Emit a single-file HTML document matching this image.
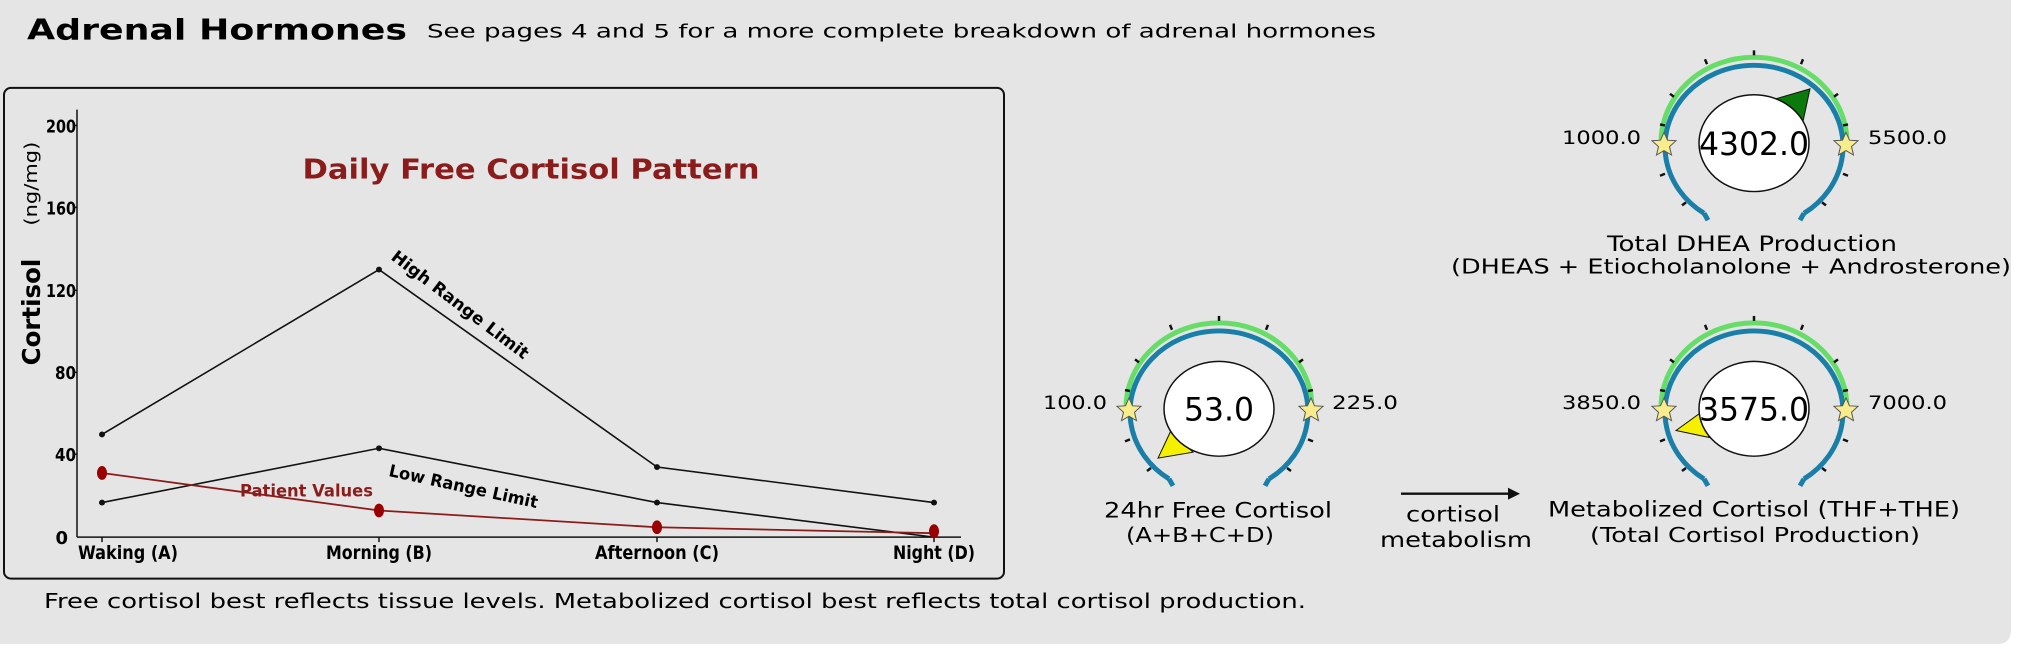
<!DOCTYPE html>
<html><head><meta charset="utf-8"><style>
html,body{margin:0;padding:0;background:#fff;}
svg{display:block;}
text{font-family:"DejaVu Sans","Liberation Sans",sans-serif;}
</style></head><body>
<svg width="2018" height="656" viewBox="0 0 2018 656" xmlns="http://www.w3.org/2000/svg">
<path d="M0 0 H2011 V630 Q2011 644 1997 644 H0 Z" fill="#e5e5e5"/>
<defs>
<g id="g">
<path d="M-93 0 A93 86 0 0 1 93 0" fill="none" stroke="#66dd66" stroke-width="5"/>
<path d="M-50 72 A89 82 0 1 1 50 72" fill="none" stroke="#1a7fa8" stroke-width="5"/>
<path d="M-50 72 l4 7 M50 72 l-4 7" stroke="#1a7fa8" stroke-width="5" fill="none"/>
<g stroke="#111" stroke-width="2.5">
<line x1="0" y1="-88" x2="0" y2="-93"/>
<line x1="-47" y1="-79" x2="-49" y2="-84"/><line x1="47" y1="-79" x2="49" y2="-84"/>
<line x1="-80" y1="-46" x2="-84" y2="-49"/><line x1="80" y1="-46" x2="84" y2="-49"/>
<line x1="-89" y1="-17" x2="-94" y2="-18"/><line x1="89" y1="-17" x2="94" y2="-18"/>
<line x1="-89" y1="32" x2="-94" y2="34"/><line x1="89" y1="32" x2="94" y2="34"/>
<line x1="-68" y1="61" x2="-72" y2="64"/><line x1="68" y1="61" x2="72" y2="64"/>
</g>
<path d="M0 -12 L3.5 -4 L12 -3.5 L5.5 2.5 L7.5 11 L0 6.5 L-7.5 11 L-5.5 2.5 L-12 -3.5 L-3.5 -4 Z" transform="translate(-90,2)" fill="#f8ec8c" stroke="#555" stroke-width="1"/>
<path d="M0 -12 L3.5 -4 L12 -3.5 L5.5 2.5 L7.5 11 L0 6.5 L-7.5 11 L-5.5 2.5 L-12 -3.5 L-3.5 -4 Z" transform="translate(92,2)" fill="#f8ec8c" stroke="#555" stroke-width="1"/>
</g>
</defs>
<g transform="scale(1,0.9874)">
<text x="27" y="40" font-size="29" font-weight="bold" textLength="380" lengthAdjust="spacingAndGlyphs">Adrenal Hormones</text>
<text x="427" y="38" font-size="19" textLength="949" lengthAdjust="spacingAndGlyphs">See pages 4 and 5 for a more complete breakdown of adrenal hormones</text>

<rect x="4" y="89" width="1000" height="497" rx="7" fill="none" stroke="#111" stroke-width="2"/>
<line x1="77" y1="111" x2="77" y2="544" stroke="#111" stroke-width="1.5"/>
<line x1="77" y1="544" x2="961" y2="544" stroke="#111" stroke-width="1.5"/>
<g font-size="18" font-weight="bold" text-anchor="end">
<text x="76" y="134" textLength="30" lengthAdjust="spacingAndGlyphs">200</text>
<text x="76" y="217" textLength="30" lengthAdjust="spacingAndGlyphs">160</text>
<text x="76" y="301" textLength="30" lengthAdjust="spacingAndGlyphs">120</text>
<text x="76" y="384" textLength="21" lengthAdjust="spacingAndGlyphs">80</text>
<text x="76" y="467" textLength="21" lengthAdjust="spacingAndGlyphs">40</text>
<text x="68" y="551">0</text>
</g>
<g stroke="#111" stroke-width="1.5">
<line x1="73" y1="127" x2="77" y2="127"/><line x1="73" y1="210" x2="77" y2="210"/><line x1="73" y1="294" x2="77" y2="294"/><line x1="73" y1="377" x2="77" y2="377"/><line x1="73" y1="460" x2="77" y2="460"/>
<line x1="102" y1="544" x2="102" y2="549"/><line x1="379" y1="544" x2="379" y2="549"/><line x1="657" y1="544" x2="657" y2="549"/><line x1="934" y1="544" x2="934" y2="549"/>
</g>
<g font-size="19" font-weight="bold" text-anchor="middle">
<text x="128" y="566" textLength="100" lengthAdjust="spacingAndGlyphs">Waking (A)</text>
<text x="379" y="566" textLength="106" lengthAdjust="spacingAndGlyphs">Morning (B)</text>
<text x="657" y="566" textLength="124" lengthAdjust="spacingAndGlyphs">Afternoon (C)</text>
<text x="934" y="566" textLength="82" lengthAdjust="spacingAndGlyphs">Night (D)</text>
</g>
<text x="0" y="0" transform="translate(40,316) rotate(-90)" font-size="25" font-weight="bold" text-anchor="middle" textLength="108" lengthAdjust="spacingAndGlyphs">Cortisol</text>
<text x="0" y="0" transform="translate(37,186) rotate(-90)" font-size="18" text-anchor="middle" textLength="85" lengthAdjust="spacingAndGlyphs">(ng/mg)</text>
<text x="531" y="181" font-size="28" font-weight="bold" fill="#8b1c1c" text-anchor="middle" textLength="457" lengthAdjust="spacingAndGlyphs">Daily Free Cortisol Pattern</text>

<polyline points="102,440 379,273 657,473 934,509" fill="none" stroke="#111" stroke-width="1.6"/>
<polyline points="102,509 379,454 657,509 934,544" fill="none" stroke="#111" stroke-width="1.6"/>
<g fill="#111"><circle cx="102" cy="440" r="3"/><circle cx="379" cy="273" r="3"/><circle cx="657" cy="473" r="3"/><circle cx="934" cy="509" r="3"/>
<circle cx="102" cy="509" r="3"/><circle cx="379" cy="454" r="3"/><circle cx="657" cy="509" r="3"/></g>
<polyline points="102,479 379,517 657,534 934,540" fill="none" stroke="#8b1c1c" stroke-width="1.8"/>
<g fill="#9b0000"><ellipse cx="102" cy="479" rx="5" ry="7"/><ellipse cx="379" cy="517" rx="5" ry="7"/><ellipse cx="657" cy="534" rx="5" ry="7"/><ellipse cx="934" cy="538" rx="5" ry="7"/></g>
<text transform="translate(390,262) rotate(37.5)" font-size="17" font-weight="bold" textLength="168" lengthAdjust="spacingAndGlyphs">High Range Limit</text>
<text transform="translate(388,482) rotate(12.4)" font-size="17" font-weight="bold" textLength="152" lengthAdjust="spacingAndGlyphs">Low Range Limit</text>
<text x="240" y="503" font-size="17" font-weight="bold" fill="#8b1c1c" textLength="133" lengthAdjust="spacingAndGlyphs">Patient Values</text>

<text x="44" y="616" font-size="21" textLength="1262" lengthAdjust="spacingAndGlyphs">Free cortisol best reflects tissue levels. Metabolized cortisol best reflects total cortisol production.</text>

<use href="#g" x="1754" y="144"/>
<polygon points="1810,90 1776,100 1803,123" fill="#0a7a0a" stroke="#111" stroke-width="1"/>
<ellipse cx="1754" cy="145" rx="55" ry="49" fill="#fff" stroke="#111" stroke-width="1.5"/>
<text x="1754" y="157" font-size="32" text-anchor="middle" textLength="110" lengthAdjust="spacingAndGlyphs">4302.0</text>
<text x="1641" y="146" font-size="19" text-anchor="end" textLength="79" lengthAdjust="spacingAndGlyphs">1000.0</text>
<text x="1868" y="146" font-size="19" textLength="79" lengthAdjust="spacingAndGlyphs">5500.0</text>
<text x="1752" y="254" font-size="22" text-anchor="middle" textLength="290" lengthAdjust="spacingAndGlyphs">Total DHEA Production</text>
<text x="1731" y="277" font-size="21" text-anchor="middle" textLength="560" lengthAdjust="spacingAndGlyphs">(DHEAS + Etiocholanolone + Androsterone)</text>

<use href="#g" x="1219" y="413"/>
<polygon points="1158,464 1171,436 1193,458" fill="#f5f000" stroke="#111" stroke-width="1"/>
<ellipse cx="1219" cy="414" rx="55" ry="48" fill="#fff" stroke="#111" stroke-width="1.5"/>
<text x="1219" y="426" font-size="32" text-anchor="middle" textLength="70" lengthAdjust="spacingAndGlyphs">53.0</text>
<text x="1107" y="414" font-size="19" text-anchor="end" textLength="64" lengthAdjust="spacingAndGlyphs">100.0</text>
<text x="1332" y="414" font-size="19" textLength="66" lengthAdjust="spacingAndGlyphs">225.0</text>
<text x="1218" y="524" font-size="22" text-anchor="middle" textLength="228" lengthAdjust="spacingAndGlyphs">24hr Free Cortisol</text>
<text x="1200" y="549" font-size="21" text-anchor="middle" textLength="148" lengthAdjust="spacingAndGlyphs">(A+B+C+D)</text>

<line x1="1401" y1="500" x2="1510" y2="500" stroke="#111" stroke-width="2.5"/>
<polygon points="1508,494 1520,500 1508,506" fill="#111"/>
<text x="1453" y="528" font-size="22" text-anchor="middle" textLength="94" lengthAdjust="spacingAndGlyphs">cortisol</text>
<text x="1456" y="554" font-size="22" text-anchor="middle" textLength="152" lengthAdjust="spacingAndGlyphs">metabolism</text>

<use href="#g" x="1754" y="413"/>
<polygon points="1676,436 1702,417 1709,443" fill="#f5f000" stroke="#111" stroke-width="1"/>
<ellipse cx="1754" cy="414" rx="55" ry="48" fill="#fff" stroke="#111" stroke-width="1.5"/>
<text x="1754" y="426" font-size="32" text-anchor="middle" textLength="110" lengthAdjust="spacingAndGlyphs">3575.0</text>
<text x="1641" y="414" font-size="19" text-anchor="end" textLength="79" lengthAdjust="spacingAndGlyphs">3850.0</text>
<text x="1868" y="414" font-size="19" textLength="79" lengthAdjust="spacingAndGlyphs">7000.0</text>
<text x="1754" y="523" font-size="22" text-anchor="middle" textLength="412" lengthAdjust="spacingAndGlyphs">Metabolized Cortisol (THF+THE)</text>
<text x="1755" y="549" font-size="21" text-anchor="middle" textLength="330" lengthAdjust="spacingAndGlyphs">(Total Cortisol Production)</text>
</g>
</svg>
</body></html>
